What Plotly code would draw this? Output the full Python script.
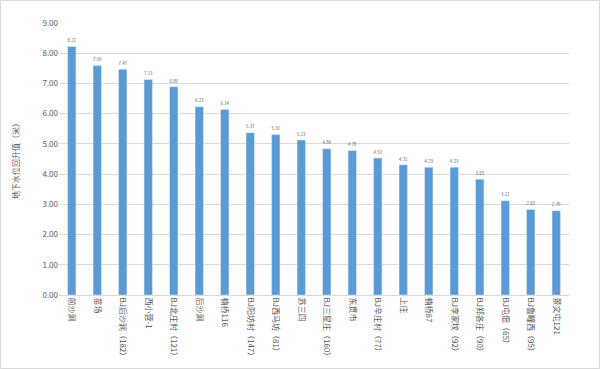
import plotly.graph_objects as go

categories = ["前沙涧", "苗场", "BJ后沙涧（182）", "西小营-1", "BJ北庄村（121）", "后沙涧", "楠桥116",
              "BJ阳坊村（147）", "BJ西马坊（81）", "苏三四", "BJ三星庄（160）", "东贯市", "BJ辛庄村（77）",
              "上庄", "楠桥87", "BJ李家坟（92）", "BJ郑各庄（90）", "BJ屯佃（65）", "BJ鲁疃西（95）", "景文屯121"]
values = [8.22, 7.59, 7.47, 7.13, 6.89, 6.23, 6.14, 5.37, 5.31, 5.13, 4.84, 4.78, 4.53, 4.31, 4.23, 4.23, 3.83, 3.12, 2.83, 2.79]
y_ticks = [0, 1, 2, 3, 4, 5, 6, 7, 8, 9]
y_title = "地下水位回升值（米）"

font = "Noto Sans CJK SC, DejaVu Sans, sans-serif"
L, R, T, B = 59, 31, 23, 74
PW, PH = 600 - L - R, 369 - T - B

fig = go.Figure(go.Bar(
    x=categories, y=values,
    marker=dict(color="#5B9BD5"),
    text=[f"{v:.2f}" for v in values], textposition="outside",
    textfont=dict(size=7, color="#595959", family=font),
    cliponaxis=False,
))
fig.update_layout(
    width=600, height=369,
    margin=dict(l=L, r=R, t=T, b=B, autoexpand=False),
    paper_bgcolor="white", plot_bgcolor="white",
    bargap=0.67, showlegend=False,
    font=dict(family=font, color="#595959", size=8),
    xaxis=dict(tickangle=90, tickfont=dict(size=8, color="#595959"), showline=True,
               linecolor="#D9D9D9", linewidth=1, ticks="", automargin=False),
    yaxis=dict(range=[0, 9], tickvals=y_ticks, tickformat=".2f",
               tickfont=dict(size=8, color="#595959"), automargin=False,
               gridcolor="#D9D9D9", gridwidth=1, zeroline=False),
    annotations=[dict(text=y_title, textangle=-90, xref="paper", yref="paper",
                      x=(15 - L) / PW, y=0.5, xanchor="center", yanchor="middle", showarrow=False,
                      font=dict(size=8, color="#595959"))],
    shapes=[dict(type="rect", xref="paper", yref="paper",
                 x0=-(L - 0.5) / PW, x1=1 + (R - 0.5) / PW,
                 y0=-(B - 0.5) / PH, y1=1 + (T - 0.5) / PH,
                 line=dict(color="#D9D9D9", width=1))],
)
fig.write_html("out.html", config={"displayModeBar": False},
               post_script="document.body.style.margin='0';document.body.style.overflow='hidden';")
